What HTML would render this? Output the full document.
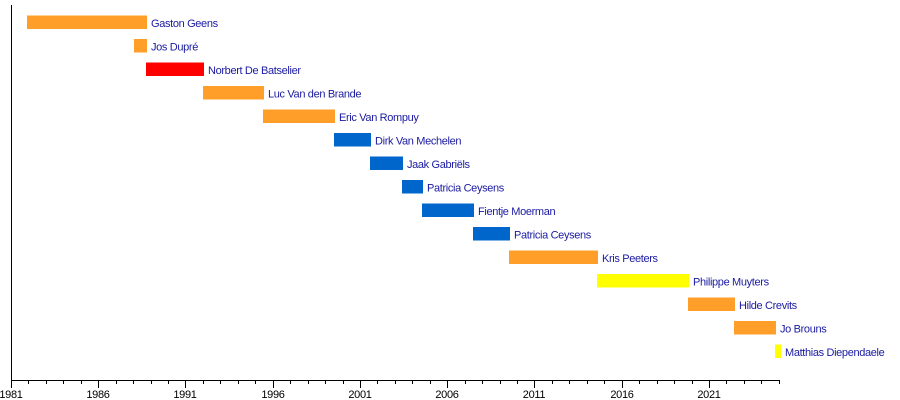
<!DOCTYPE html>
<html><head><meta charset="utf-8"><style>
html,body{margin:0;padding:0;background:#fff;}
svg{display:block;}
text{font-family:"Liberation Sans",sans-serif;}
</style></head><body>
<svg width="900" height="400" viewBox="0 0 900 400" xmlns="http://www.w3.org/2000/svg">
<g shape-rendering="crispEdges">
<rect x="27" y="15.5" width="120" height="13.5" fill="#ff9f2a"/>
<rect x="134" y="39" width="13" height="13.5" fill="#ff9f2a"/>
<rect x="146" y="62.5" width="58" height="13.5" fill="#ff0000"/>
<rect x="203" y="86" width="61" height="13.5" fill="#ff9f2a"/>
<rect x="263" y="109.5" width="72" height="13.5" fill="#ff9f2a"/>
<rect x="334" y="133" width="37" height="13.5" fill="#0066cc"/>
<rect x="370" y="156.5" width="33" height="13.5" fill="#0066cc"/>
<rect x="402" y="180" width="21" height="13.5" fill="#0066cc"/>
<rect x="422" y="203.5" width="52" height="13.5" fill="#0066cc"/>
<rect x="473" y="227" width="37" height="13.5" fill="#0066cc"/>
<rect x="509" y="250.5" width="89" height="13.5" fill="#ff9f2a"/>
<rect x="597" y="274" width="92" height="13.5" fill="#ffff00"/>
<rect x="688" y="297.5" width="47" height="13.5" fill="#ff9f2a"/>
<rect x="734" y="321" width="42" height="13.5" fill="#ff9f2a"/>
<rect x="775" y="344.5" width="6" height="13.5" fill="#ffff00"/>
<path d="M11.5 5V381M11 380.5H780" stroke="#000" fill="none"/>
<path stroke="#000" fill="none" d="M11.5 381v7M28.5 381v3M46.5 381v3M63.5 381v3M81.5 381v3M98.5 381v7M116.5 381v3M133.5 381v3M151.5 381v3M168.5 381v3M185.5 381v7M203.5 381v3M220.5 381v3M238.5 381v3M255.5 381v3M273.5 381v7M290.5 381v3M308.5 381v3M325.5 381v3M343.5 381v3M360.5 381v7M377.5 381v3M395.5 381v3M412.5 381v3M430.5 381v3M447.5 381v7M465.5 381v3M482.5 381v3M500.5 381v3M517.5 381v3M534.5 381v7M552.5 381v3M569.5 381v3M587.5 381v3M604.5 381v3M622.5 381v7M639.5 381v3M657.5 381v3M674.5 381v3M692.5 381v3M709.5 381v7M726.5 381v3M744.5 381v3M761.5 381v3M779.5 381v3"/>
</g>
<g fill="#1a1aa0" font-size="11" letter-spacing="-0.35">
<text x="151" y="27">Gaston Geens</text>
<text x="151" y="50.5">Jos Dupré</text>
<text x="208" y="74">Norbert De Batselier</text>
<text x="268" y="97.5">Luc Van den Brande</text>
<text x="339" y="121">Eric Van Rompuy</text>
<text x="375" y="144.5">Dirk Van Mechelen</text>
<text x="407" y="168">Jaak Gabriëls</text>
<text x="427" y="191.5">Patricia Ceysens</text>
<text x="478" y="215">Fientje Moerman</text>
<text x="514" y="238.5">Patricia Ceysens</text>
<text x="602" y="262">Kris Peeters</text>
<text x="693" y="285.5">Philippe Muyters</text>
<text x="739" y="309">Hilde Crevits</text>
<text x="780" y="332.5">Jo Brouns</text>
<text x="785" y="356">Matthias Diependaele</text>
</g>
<g font-size="11" fill="#000" text-anchor="middle" letter-spacing="-0.3">
<text x="11" y="398">1981</text>
<text x="98" y="398">1986</text>
<text x="185" y="398">1991</text>
<text x="273" y="398">1996</text>
<text x="360" y="398">2001</text>
<text x="447" y="398">2006</text>
<text x="534" y="398">2011</text>
<text x="622" y="398">2016</text>
<text x="709" y="398">2021</text>
</g>
</svg>
</body></html>
